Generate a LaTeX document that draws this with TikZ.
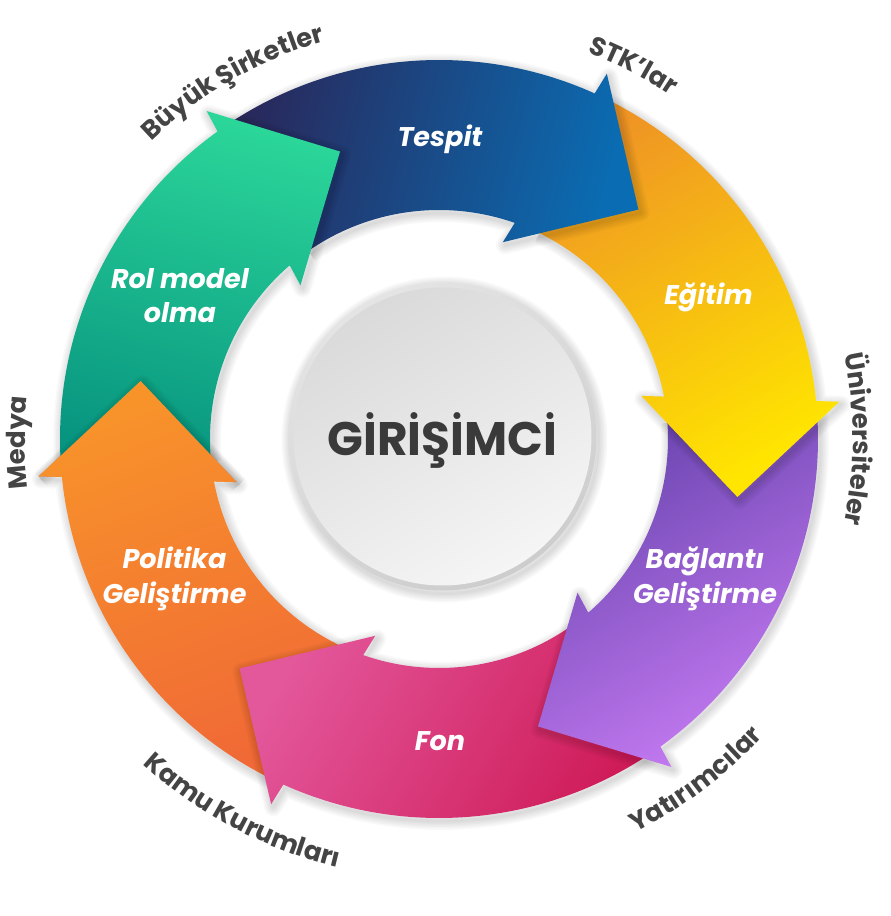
\documentclass[tikz,border=0pt]{standalone}
\usepackage{fontspec}
\setmainfont{Liberation Sans}
\newfontfamily\popfont{Poppins}
\usetikzlibrary{decorations.text}

\definecolor{rolA}{HTML}{2BD699}
\definecolor{rolB}{HTML}{089580}
\definecolor{tesA}{HTML}{29285B}
\definecolor{tesB}{HTML}{0A6DB3}
\definecolor{egiA}{HTML}{EF9524}
\definecolor{egiB}{HTML}{FFE500}
\definecolor{bagA}{HTML}{6844AF}
\definecolor{bagB}{HTML}{C77BF3}
\definecolor{fonA}{HTML}{E3579B}
\definecolor{fonB}{HTML}{CF1B58}
\definecolor{polA}{HTML}{F8932A}
\definecolor{polB}{HTML}{F06936}
\definecolor{lblgrey}{HTML}{444444}
\definecolor{centxt}{HTML}{3A3A3A}
\definecolor{rimA}{HTML}{E4E4E4}
\definecolor{rimB}{HTML}{CDCDCD}
\definecolor{discA}{HTML}{DADADA}
\definecolor{discB}{HTML}{F5F5F5}

\tikzset{
  arr/.style={insert path={
    ({#1+75.8}:379pt) arc[start angle={#1+75.8}, end angle={#1+16.75}, radius=379pt]
    -- ({#1+16.32}:402pt) -- (#1:304pt) -- ({#1+23.03}:206.9pt) -- ({#1+21.68}:229pt)
    arc[start angle={#1+21.68}, end angle={#1+75.8}, radius=229pt] -- cycle}},
  arrline/.style={insert path={
    ({#1+75.8}:379pt) arc[start angle={#1+75.8}, end angle={#1+16.75}, radius=379pt]
    -- ({#1+16.32}:402pt) -- (#1:304pt) -- ({#1+23.03}:206.9pt) -- ({#1+21.68}:229pt)
    arc[start angle={#1+21.68}, end angle={#1+75.8}, radius=229pt]}},
  headtri/.style={insert path={({#1+16.32}:402pt) -- (#1:304pt) -- ({#1+23.03}:206.9pt) -- cycle}},
  headedge/.style={insert path={({#1+16.32}:402pt) -- (#1:304pt) -- ({#1+23.03}:206.9pt)}},
  shadowpen/.style={draw=black, opacity=0.024, line join=round, line cap=butt, shift={(2pt,-3pt)}},
  inlabel/.style={text=white, font=\popfont\bfseries\itshape\fontsize{27}{35}\selectfont, align=center, anchor=base, inner sep=0pt},
  outlabel/.style={decorate, decoration={text along path, text align=center, text color=lblgrey,
    text={|\popfont\bfseries\fontsize{26}{26}\selectfont|#1}}},
}
\newcommand\arrshadow[1]{\foreach \w in {3,6,9,12,15,18}{\path[shadowpen, line width=\w*1pt, arrline=#1];}}
\newcommand\headshadow[1]{\foreach \w in {3,6,9,12,15,18}{\path[shadowpen, line width=\w*1pt, headedge=#1];}}

\begin{document}
\begin{tikzpicture}
\fill[white] (-439pt,-477pt) rectangle (452pt,439pt);
\useasboundingbox (-439pt,-477pt) rectangle (452pt,439pt);

% arrows, drawn so that each head lies over the next body
\arrshadow{169}
\shade[top color=polA, bottom color=polB, shading angle=20, arr=169];
\arrshadow{-131}
\shade[top color=fonA, bottom color=fonB, shading angle=60, arr=-131];
\arrshadow{-71}
\shade[top color=bagA, bottom color=bagB, shading angle=30, arr=-71];
\arrshadow{-11}
\shade[top color=egiA, bottom color=egiB, shading angle=30, arr=-11];
\arrshadow{49}
\shade[top color=tesA, bottom color=tesB, shading angle=75, arr=49];
\arrshadow{109}
\shade[top color=rolA, bottom color=rolB, shading angle=-15, arr=109];
% head of Politika over the Rol model body
\headshadow{169}
\begin{scope}
  \clip[headtri=169];
  \shade[top color=polA, bottom color=polB, shading angle=20, arr=169];
\end{scope}

% centre disc
\foreach \w in {3,6,9,12,15,18}{\draw[shadowpen, line width=\w*1pt] (3.5pt,2.5pt) circle (154pt);}
\shade[top color=rimA, bottom color=rimB, shading angle=30] (3.5pt,2.5pt) circle (154pt);
\shade[top color=discA, bottom color=discB, shading angle=30] (3.5pt,2.5pt) circle (149pt);
\node[font=\popfont\bfseries\fontsize{47}{47}\selectfont, text=centxt, anchor=base, inner sep=0pt] (centre) at (3.5pt,-16pt) {GİRİŞİMCİ};

% inner labels (anchor = baseline of the last line)
\node[inlabel] (tespit) at (1pt,292pt) {Tespit};
\node[inlabel] (egitim) at (269.5pt,134pt) {Eğitim};
\node[inlabel] (baglanti) at (266pt,-164pt) {Bağlantı\\Geliştirme};
\node[inlabel] (fon) at (1pt,-311pt) {Fon};
\node[inlabel] (politika) at (-264.5pt,-164pt) {Politika\\Geliştirme};
\node[inlabel] (rolmodel) at (-259pt,116pt) {Rol model\\olma};

% outer labels
\path[outlabel={Büyük Şirketler}] (150:414pt) arc[start angle=150, end angle=90, radius=414pt];
\path[outlabel={STK’lar}] (92.5:414pt) arc[start angle=92.5, end angle=32.5, radius=414pt];
\path[outlabel={Üniversiteler}] (40:414pt) arc[start angle=40, end angle=-40, radius=414pt];
\path[outlabel={Medya}] (210.5:414pt) arc[start angle=210.5, end angle=150.5, radius=414pt];
\path[outlabel={Yatırımcılar}] (-83:440pt) arc[start angle=-83, end angle=-23, radius=440pt];
\path[outlabel={Kamu Kurumları}] (-147.8:440pt) arc[start angle=-147.8, end angle=-87.8, radius=440pt];
\end{tikzpicture}
\end{document}
